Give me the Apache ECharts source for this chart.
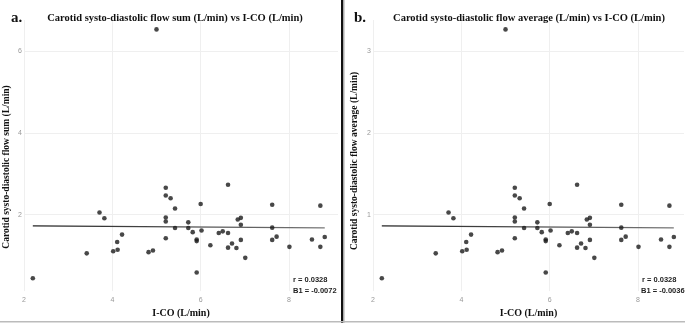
<!DOCTYPE html>
<html><head><meta charset="utf-8">
<script src="https://cdn.jsdelivr.net/npm/echarts@6/dist/echarts.min.js"></script>
<style>html,body{margin:0;padding:0;background:#fff}#c{width:685px;height:323px}</style>
</head><body><div id="c"></div>
<script>
const icoValues = [2.2, 3.42, 3.71, 3.82, 4.02, 4.11, 4.12, 4.22, 4.82, 4.92, 5.0, 5.21, 5.21, 5.32, 5.21, 5.21, 5.21, 5.42, 5.42, 5.72, 5.72, 5.82, 5.91, 5.91, 5.91, 6.0, 6.02, 6.22, 6.41, 6.50, 6.62, 6.62, 6.62, 6.71, 6.81, 6.84, 6.91, 6.91, 6.91, 7.01, 7.62, 7.62, 7.62, 7.72, 8.01, 8.52, 8.71, 8.71, 8.81];
const sumValues = [0.44, 1.05, 2.05, 1.91, 1.10, 1.33, 1.14, 1.51, 1.08, 1.12, 6.54, 2.66, 2.47, 2.40, 1.93, 1.83, 1.42, 2.15, 1.67, 1.81, 1.67, 1.57, 1.39, 1.35, 0.58, 2.26, 1.61, 1.25, 1.55, 1.59, 2.73, 1.55, 1.19, 1.29, 1.18, 1.88, 1.92, 1.75, 1.38, 0.94, 2.24, 1.68, 1.38, 1.46, 1.21, 1.39, 2.22, 1.21, 1.45];
const avgValues = [0.22, 0.525, 1.025, 0.955, 0.55, 0.665, 0.57, 0.755, 0.54, 0.56, 3.27, 1.33, 1.235, 1.2, 0.965, 0.915, 0.71, 1.075, 0.835, 0.905, 0.835, 0.785, 0.695, 0.675, 0.29, 1.13, 0.805, 0.625, 0.775, 0.795, 1.365, 0.775, 0.595, 0.645, 0.59, 0.94, 0.96, 0.875, 0.69, 0.47, 1.12, 0.84, 0.69, 0.73, 0.605, 0.695, 1.11, 0.605, 0.725];
const fitX = [2.2, 8.81];
const fitSum = [1.722, 1.674];
const fitAvg = [0.861, 0.837];
const xTicks = [2, 4, 6, 8];
const ySumTicks = [2, 4, 6];
const yAvgTicks = [1, 2, 3];
const titleA = 'Carotid systo-diastolic flow sum (L/min) vs I-CO (L/min)';
const titleB = 'Carotid systo-diastolic flow average (L/min) vs I-CO (L/min)';
const yNameA = 'Carotid systo-diastolic flow sum (L/min)';
const yNameB = 'Carotid systo-diastolic flow average (L/min)';
const xName = 'I-CO (L/min)';
const statsA = ['r = 0.0328', 'B1 = -0.0072'];
const statsB = ['r = 0.0328', 'B1 = -0.0036'];

const serif = '"Liberation Serif", "Times New Roman", serif';
const sans = '"Liberation Sans", Arial, sans-serif';
const gridColor = '#efefef';

function xAxis(gi, max) {
  return {
    type: 'value', gridIndex: gi, min: 2, max: max,
    name: xName, nameLocation: 'middle', nameGap: 13,
    nameTextStyle: {fontFamily: serif, fontWeight: 'bold', fontSize: 10, color: '#111'},
    axisLine: {show: false}, axisTick: {show: false, customValues: xTicks},
    axisLabel: {customValues: xTicks, fontSize: 7, color: '#999', margin: 5, fontFamily: sans},
    splitLine: {show: true, lineStyle: {color: gridColor, width: 1}}
  };
}
function yAxis(gi, min, max, ticks) {
  return {
    type: 'value', gridIndex: gi, min: min, max: max,
    axisLine: {show: false}, axisTick: {show: false, customValues: ticks},
    axisLabel: {customValues: ticks, fontSize: 7, color: '#999', margin: 2, fontFamily: sans},
    splitLine: {show: true, lineStyle: {color: gridColor, width: 1}}
  };
}
const pts = (xs, ys) => xs.map((x, i) => [x, ys[i]]);
const lineColor = new echarts.graphic.LinearGradient(0, 0, 1, 0, [
  {offset: 0, color: '#222'}, {offset: 1, color: '#777'}]);
const yTitle = (text, x, y) => ({type: 'text', x: x, y: y, rotation: Math.PI / 2,
  style: {text: text, font: 'bold 9.5px ' + serif, fill: '#111', align: 'center', verticalAlign: 'middle'}});
const stat = (text, x, y) => ({type: 'text', x: x, y: y,
  style: {text: text, font: 'bold 7.5px ' + sans, fill: '#222', verticalAlign: 'middle'}});

const chart = echarts.init(document.getElementById('c'), null, {renderer: 'canvas'});
chart.setOption({
  animation: false,
  backgroundColor: '#fff',
  title: [
    {text: titleA, left: 170, top: 8, textAlign: 'center',
     textStyle: {fontFamily: serif, fontWeight: 'bold', fontSize: 10.5, color: '#111'}},
    {text: titleB, left: 524, top: 8, textAlign: 'center',
     textStyle: {fontFamily: serif, fontWeight: 'bold', fontSize: 10.5, color: '#111'}},
    {text: 'a.', left: 6, top: 6,
     textStyle: {fontFamily: serif, fontWeight: 'bold', fontSize: 15, color: '#111'}},
    {text: 'b.', left: 349, top: 6,
     textStyle: {fontFamily: serif, fontWeight: 'bold', fontSize: 15, color: '#111'}}
  ],
  grid: [
    {left: 24, top: 20, width: 314, height: 280},
    {left: 373, top: 20, width: 311, height: 280}
  ],
  xAxis: [xAxis(0, 9.11), xAxis(1, 9.04)],
  yAxis: [yAxis(0, 0.125, 6.77, ySumTicks), yAxis(1, 0.0625, 3.385, yAvgTicks)],
  series: [
    {type: 'line', xAxisIndex: 0, yAxisIndex: 0, data: pts(fitX, fitSum), symbol: 'none',
     lineStyle: {color: lineColor, width: 1.2}, z: 1},
    {type: 'line', xAxisIndex: 1, yAxisIndex: 1, data: pts(fitX, fitAvg), symbol: 'none',
     lineStyle: {color: lineColor, width: 1.2}, z: 1},
    {type: 'scatter', xAxisIndex: 0, yAxisIndex: 0, data: pts(icoValues, sumValues),
     symbolSize: 4.6, itemStyle: {color: '#1a1a1a'}, z: 2},
    {type: 'scatter', xAxisIndex: 1, yAxisIndex: 1, data: pts(icoValues, avgValues),
     symbolSize: 4.6, itemStyle: {color: '#1a1a1a'}, z: 2}
  ],
  graphic: [
    yTitle(yNameA, 7, 167),
    yTitle(yNameB, 355, 161),
    stat(statsA[0], 293, 279.5),
    stat(statsA[1], 293, 291),
    stat(statsB[0], 642, 279.5),
    stat(statsB[1], 641, 291),
    {type: 'rect', shape: {x: 341, y: 0, width: 2, height: 323}, style: {fill: '#111'}},
    {type: 'rect', shape: {x: 343, y: 0, width: 1.5, height: 323}, style: {fill: '#aaa'}},
    {type: 'rect', shape: {x: 0, y: 321, width: 685, height: 1.5}, style: {fill: '#bbb'}}
  ]
});
</script></body></html>
